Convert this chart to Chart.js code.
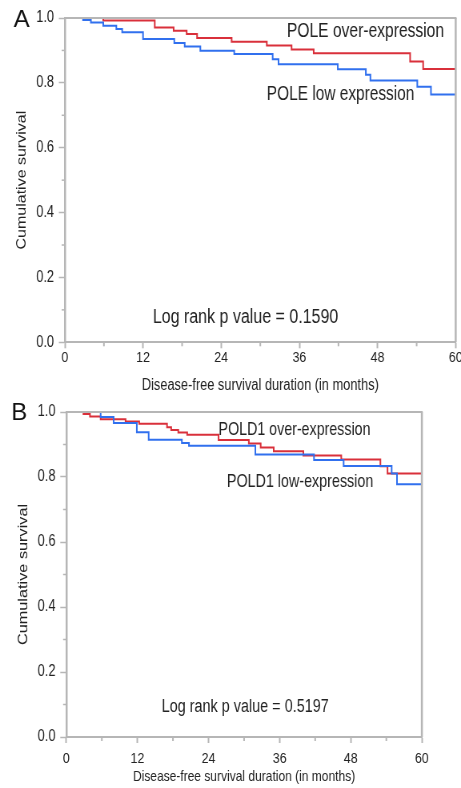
<!DOCTYPE html>
<html>
<head>
<meta charset="utf-8">
<script src="https://cdn.jsdelivr.net/npm/chart.js@4.4.0/dist/chart.umd.min.js"></script>
<style>
    body { margin: 0; background: #fff; }
    canvas { position: absolute; left: 0; }
</style>
</head>
<body>
<!-- canvases are drawn wider and squeezed to 461px, the source figure has narrow text -->
<canvas id="chart-a" width="576" height="395" style="top:0px;width:461px;height:395px"></canvas>
<canvas id="chart-b" width="576" height="393" style="top:395px;width:461px;height:393px"></canvas>
<script>
// Kaplan-Meier steps: month of the drop, survival after it
const poleOverMonths = [0, 5.9, 13.8, 16.7, 18.7, 20.3, 25.6, 31.0, 34.8, 38.2, 53.0, 55.0, 60]
const poleOverSurv = [1.0, 0.992, 0.971, 0.961, 0.951, 0.938, 0.927, 0.915, 0.903, 0.891, 0.866, 0.843, 0.843]
const poleLowMonths = [0, 2.8, 4.0, 5.9, 7.9, 8.8, 12.0, 16.8, 18.4, 20.8, 26.0, 31.9, 32.8, 41.9, 46.2, 46.9, 54.1, 56.2, 60]
const poleLowSurv = [1.0, 0.994, 0.986, 0.976, 0.966, 0.956, 0.935, 0.923, 0.912, 0.899, 0.889, 0.873, 0.857, 0.842, 0.825, 0.807, 0.788, 0.764, 0.764]

const pold1OverMonths = [0, 2.9, 4.0, 5.8, 10.0, 12.3, 17.0, 17.7, 18.9, 20.4, 25.7, 30.8, 32.8, 35.0, 40.0, 46.4, 53.0, 54.2, 60]
const pold1OverSurv = [1.0, 0.994, 0.986, 0.978, 0.971, 0.964, 0.953, 0.945, 0.937, 0.930, 0.914, 0.903, 0.891, 0.879, 0.866, 0.854, 0.833, 0.811, 0.811]
const pold1LowMonths = [0, 5.8, 8.0, 11.9, 13.9, 19.5, 20.7, 31.9, 41.8, 46.8, 54.9, 55.8, 60]
const pold1LowSurv = [1.0, 0.985, 0.966, 0.938, 0.915, 0.905, 0.896, 0.869, 0.852, 0.834, 0.811, 0.778, 0.778]

const xTicks = [0, 12, 24, 36, 48, 60]
const yTicks = [0, 0.2, 0.4, 0.6, 0.8, 1.0]

const xTitle = 'Disease-free survival duration (in months)'
const yTitle = 'Cumulative survival'

const fontFamily = "'Liberation Sans', Arial, sans-serif"
const axisGray = '#b6b6b6'
const redLine = '#d9303b'
const blueLine = '#3170ee'

Chart.defaults.font.family = fontFamily
Chart.defaults.color = '#222'

function toPoints(months, surv) {
    return months.map((m, i) => ({ x: m, y: surv[i] }))
}

// frame, minor ticks, curve labels and panel letter
const extras = {
    id: 'extras',
    afterDatasetsDraw(chart, args, opts) {
        const ctx = chart.ctx
        const area = chart.chartArea
        const xs = chart.scales.x
        const ys = chart.scales.y
        ctx.save()
        ctx.strokeStyle = axisGray
        ctx.lineWidth = 2
        ctx.beginPath()
        ctx.moveTo(area.left, area.top)
        ctx.lineTo(area.right + 1, area.top)
        ctx.stroke()
        ctx.lineWidth = 2.5
        ctx.beginPath()
        ctx.moveTo(area.right, area.top)
        ctx.lineTo(area.right, area.bottom)
        ctx.stroke()

        ctx.lineWidth = 1.5
        for (let v = 0.1; v < 1; v += 0.2) {
            const py = ys.getPixelForValue(v)
            ctx.beginPath()
            ctx.moveTo(area.left - 4, py)
            ctx.lineTo(area.left, py)
            ctx.stroke()
        }
        ctx.lineWidth = 2
        for (let m = 6; m < 60; m += 12) {
            const px = xs.getPixelForValue(m)
            ctx.beginPath()
            ctx.moveTo(px, area.bottom)
            ctx.lineTo(px, area.bottom + 4)
            ctx.stroke()
        }

        ctx.fillStyle = '#222'
        ctx.textBaseline = 'alphabetic'
        ctx.textAlign = 'left'
        opts.labels.forEach(l => {
            ctx.font = l.size + 'px ' + fontFamily
            ctx.fillText(l.text, xs.getPixelForValue(l.month), ys.getPixelForValue(l.surv))
        })

        ctx.translate(opts.letterX, opts.letterY)
        ctx.scale(1.25, 1)
        ctx.font = '24px ' + fontFamily
        ctx.textAlign = 'center'
        ctx.textBaseline = 'middle'
        ctx.fillStyle = '#111'
        ctx.fillText(opts.letter, 0, 0)
        ctx.restore()
    }
}

function makeChart(id, p) {
    const ctx = document.getElementById(id).getContext('2d')
    return new Chart(ctx, {
        type: 'line',
        data: {
            datasets: [{
                label: p.lowName,
                data: toPoints(p.lowMonths, p.lowSurv),
                borderColor: blueLine,
                borderWidth: 2,
                stepped: true,
                pointRadius: 0,
                fill: false
            }, {
                label: p.overName,
                data: toPoints(p.overMonths, p.overSurv),
                borderColor: redLine,
                borderWidth: 2,
                stepped: true,
                pointRadius: 0,
                fill: false
            }]
        },
        options: {
            responsive: false,
            animation: false,
            devicePixelRatio: 1,
            layout: { padding: { top: p.top, right: p.right, left: 0, bottom: 0 } },
            plugins: {
                legend: { display: false },
                tooltip: { enabled: false },
                extras: { labels: p.labels, letter: p.letter, letterX: p.letterX, letterY: p.letterY }
            },
            scales: {
                x: {
                    type: 'linear',
                    min: 0,
                    max: 60,
                    afterBuildTicks: s => { s.ticks = xTicks.map(v => ({ value: v })) },
                    ticks: { font: { size: 15.5 }, padding: p.xTickPad, maxRotation: 0, autoSkip: false },
                    grid: { drawOnChartArea: false, tickLength: 6, tickWidth: 2, tickColor: axisGray },
                    border: { color: axisGray, width: 2 },
                    title: { display: true, text: xTitle, font: { size: p.xTitleSize }, padding: { top: 0, bottom: p.xTitlePad } },
                    afterFit: s => { s.height = p.xHeight; s.paddingLeft = 0; s.paddingRight = 0 }
                },
                y: {
                    min: 0,
                    max: 1,
                    afterBuildTicks: s => { s.ticks = yTicks.map(v => ({ value: v })) },
                    ticks: { font: { size: 16 }, padding: 6, callback: v => v.toFixed(1) },
                    grid: { drawOnChartArea: false, tickLength: 7.5, tickWidth: 1.5, tickColor: axisGray },
                    border: { color: axisGray, width: 2.5 },
                    title: { display: true, text: yTitle, font: { size: p.yTitleSize }, padding: { top: p.yTitlePad, bottom: 0 } },
                    afterFit: s => { s.width = p.yWidth; s.paddingTop = 0; s.paddingBottom = 0 }
                }
            }
        },
        plugins: [extras]
    })
}

document.addEventListener('DOMContentLoaded', function () {
    makeChart('chart-a', {
        overName: 'POLE over-expression', lowName: 'POLE low expression',
        overMonths: poleOverMonths, overSurv: poleOverSurv,
        lowMonths: poleLowMonths, lowSurv: poleLowSurv,
        top: 18, right: 6.6, yWidth: 81, xHeight: 52.7,
        xTickPad: 0.5, xTitleSize: 16, xTitlePad: 0, yTitleSize: 16, yTitlePad: 17.5,
        letter: 'A', letterX: 27, letterY: 20,
        labels: [
            { text: 'POLE over-expression', month: 34.1, surv: 0.941, size: 19.5 },
            { text: 'POLE low expression', month: 31.0, surv: 0.748, size: 19.3 },
            { text: 'Log rank p value = 0.1590', month: 13.5, surv: 0.061, size: 20 }
        ]
    })
    makeChart('chart-b', {
        overName: 'POLD1 over-expression', lowName: 'POLD1 low-expression',
        overMonths: pold1OverMonths, overSurv: pold1OverSurv,
        lowMonths: pold1LowMonths, lowSurv: pold1LowSurv,
        top: 17, right: 48.9, yWidth: 82.8, xHeight: 51,
        xTickPad: 6.5, xTitleSize: 15, xTitlePad: 2.5, yTitleSize: 16.3, yTitlePad: 19.3,
        letter: 'B', letterX: 24, letterY: 18,
        labels: [
            { text: 'POLD1 over-expression', month: 25.7, surv: 0.929, size: 17.8 },
            { text: 'POLD1 low-expression', month: 27.1, surv: 0.770, size: 17.9 },
            { text: 'Log rank p value = 0.5197', month: 16.1, surv: 0.078, size: 18 }
        ]
    })
})
</script>
</body>
</html>
